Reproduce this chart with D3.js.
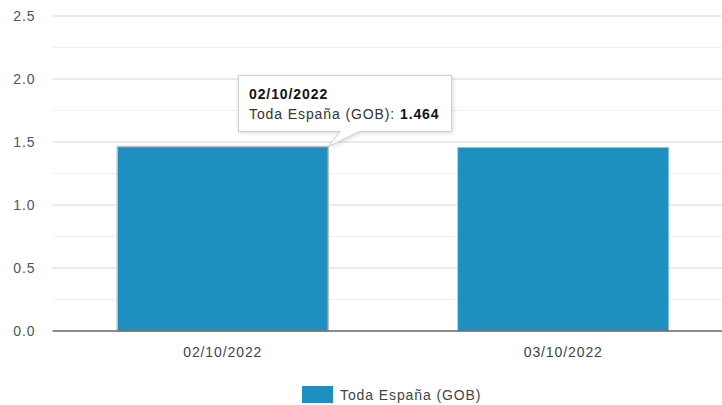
<!DOCTYPE html>
<html>
<head>
<meta charset="utf-8">
<script src="https://cdn.jsdelivr.net/npm/d3@7"></script>
<style>
  body { margin: 0; background: #fff; }
  svg { font-family: "Liberation Sans", Arial, sans-serif; }
  text { letter-spacing: 0.9px; }
</style>
</head>
<body>
<svg id="chart" width="722" height="405"></svg>
<script>
var categories = ["02/10/2022", "03/10/2022"];
var values = [1.464, 1.458];
var seriesName = "Toda España (GOB)";
var yTicks = [0, 0.5, 1.0, 1.5, 2.0, 2.5];
var yMinorTicks = [0.25, 0.75, 1.25, 1.75, 2.25];

var margin = { top: 16, left: 52.5, bottom: 74 };
var plotW = 681, plotH = 315;
var barColor = "#1e90c0";

var svg = d3.select("#chart");
var g = svg.append("g").attr("transform", "translate(" + margin.left + "," + margin.top + ")");

var x = d3.scaleBand().domain(categories).range([0, plotW]).paddingInner(0.38).paddingOuter(0.19);
var y = d3.scaleLinear().domain([0, 2.5]).range([plotH, 0]);

// minor grid
g.selectAll(".minor").data(yMinorTicks).enter().append("line")
    .attr("x1", 0).attr("x2", plotW)
    .attr("y1", function(d) { return y(d); }).attr("y2", function(d) { return y(d); })
    .style("stroke", "#eeeeee").style("stroke-width", 1);

// major grid + labels
g.selectAll(".major").data(yTicks.slice(1)).enter().append("line")
    .attr("x1", 0).attr("x2", plotW)
    .attr("y1", function(d) { return y(d); }).attr("y2", function(d) { return y(d); })
    .style("stroke", "#d6d6d6").style("stroke-width", 1);

g.selectAll(".ylab").data(yTicks).enter().append("text")
    .attr("x", -17).attr("y", function(d) { return y(d); })
    .attr("dy", "0.35em").attr("text-anchor", "end")
    .style("font-size", "14px").style("fill", "#555")
    .text(function(d) { return d.toFixed(1); });

// bars
g.selectAll(".bar").data(values).enter().append("rect")
    .attr("x", function(d, i) { return x(categories[i]); })
    .attr("y", function(d) { return y(d); })
    .attr("width", x.bandwidth())
    .attr("height", function(d) { return plotH - y(d); })
    .style("fill", barColor)
    .style("stroke", function(d, i) { return i === 0 ? "#bfbfbf" : "#9fd0e6"; })
    .style("stroke-width", function(d, i) { return i === 0 ? 1.5 : 0.8; });

// baseline axis
g.append("line").attr("x1", 0).attr("x2", plotW).attr("y1", plotH).attr("y2", plotH)
    .style("stroke", "#666").style("stroke-width", 1.5);

g.selectAll(".xlab").data(categories).enter().append("text")
    .attr("x", function(d) { return x(d) + x.bandwidth() / 2; })
    .attr("y", plotH + 26)
    .attr("text-anchor", "middle")
    .style("font-size", "14px").style("fill", "#444")
    .text(function(d) { return d; });

// legend
var legend = svg.append("g").attr("transform", "translate(302,386)");
legend.append("rect").attr("width", 31).attr("height", 17).style("fill", barColor);
legend.append("text").attr("x", 38).attr("y", 14)
    .style("font-size", "14px").style("fill", "#444").text(seriesName);

// tooltip on first bar
var tipX = x(categories[0]) + x.bandwidth() + margin.left;
var tipY = y(values[0]) + margin.top;
var box = { x: 238.5, y: 75.5, w: 213, h: 56 };
var tip = svg.append("g");
tip.append("path")
    .attr("d", "M" + box.x + "," + box.y + "h" + box.w + "v" + box.h + "H" + (box.x + 121) +
      "L" + tipX + "," + tipY + "L" + (box.x + 102) + "," + (box.y + box.h) + "H" + box.x + "Z")
    .style("fill", "#fff").style("stroke", "#cfcfcf").style("stroke-width", 1)
    .style("filter", "drop-shadow(1px 1px 2px rgba(0,0,0,0.15))");
tip.append("text").attr("x", box.x + 10.5).attr("y", box.y + 23)
    .style("font-size", "14px").style("font-weight", "bold").style("fill", "#111")
    .text(categories[0]);
var t2 = tip.append("text").attr("x", box.x + 10.5).attr("y", box.y + 43)
    .style("font-size", "14px").style("fill", "#333");
t2.append("tspan").text(seriesName + ": ");
t2.append("tspan").style("font-weight", "bold").style("fill", "#111").text(values[0].toFixed(3));
</script>
</body>
</html>
